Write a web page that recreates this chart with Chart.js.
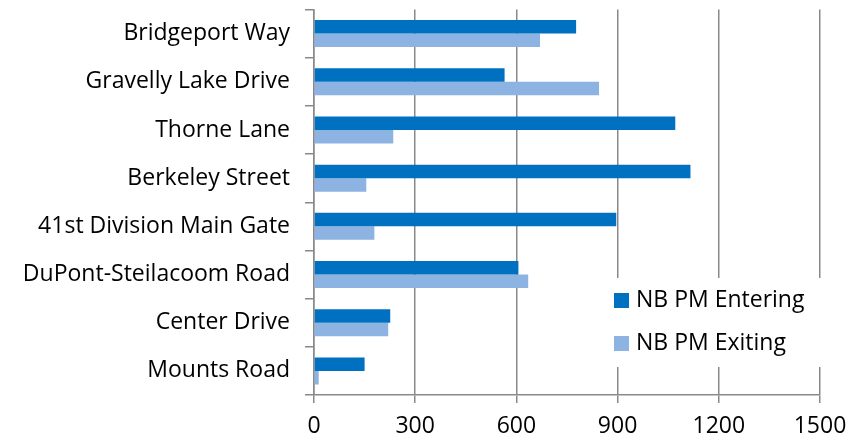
<!DOCTYPE html>
<html>
<head>
<meta charset="utf-8">
<script src="https://cdn.jsdelivr.net/npm/chart.js@4.4.0/dist/chart.umd.min.js"></script>
<style>
    html, body { margin: 0; padding: 0; background: #ffffff; }
    #wrap { width: 867px; height: 440px; }
</style>
</head>
<body>
<div id="wrap"><canvas id="rampChart"></canvas></div>
<script>
const roads = ['Bridgeport Way', 'Gravelly Lake Drive', 'Thorne Lane', 'Berkeley Street',
    '41st Division Main Gate', 'DuPont-Steilacoom Road', 'Center Drive', 'Mounts Road'];
const entering = [777, 565, 1071, 1116, 896, 606, 226, 150];
const exiting = [670, 845, 235, 155, 179, 635, 220, 14];
const xTicks = [0, 300, 600, 900, 1200, 1500];

// legend sits inside the plot, on a white box
const insideLegend = {
    id: 'insideLegend',
    afterDraw(chart) {
        const ctx = chart.ctx;
        ctx.save();
        ctx.fillStyle = '#ffffff';
        ctx.fillRect(606, 278, 230, 89);
        ctx.font = '23px "Open Sans"';
        ctx.textBaseline = 'middle';
        chart.data.datasets.forEach(function(ds, i) {
            const y = 293 + i * 43;
            ctx.fillStyle = ds.backgroundColor;
            ctx.fillRect(614, y, 15, 15);
            ctx.fillStyle = '#000000';
            ctx.fillText(ds.label, 636, y + 7);
        });
        ctx.restore();
    }
};

document.addEventListener('DOMContentLoaded', function() {
    const ctx = document.getElementById('rampChart').getContext('2d');
    new Chart(ctx, {
        type: 'bar',
        data: {
            labels: roads,
            datasets: [{
                label: 'NB PM Entering',
                data: entering,
                backgroundColor: '#0070C0'
            },
            {
                label: 'NB PM Exiting',
                data: exiting,
                backgroundColor: '#8DB3E2'
            }]
        },
        options: {
            indexAxis: 'y',
            responsive: true,
            maintainAspectRatio: false,
            animation: false,
            categoryPercentage: 0.56,
            barPercentage: 1,
            layout: {
                padding: { left: 0, right: 47, top: 9.5, bottom: 0 }
            },
            plugins: {
                legend: { display: false },
                tooltip: { enabled: false }
            },
            scales: {
                x: {
                    min: 0,
                    max: 1500,
                    afterBuildTicks: function(scale) {
                        scale.ticks = xTicks.map(v => ({ value: v }));
                    },
                    afterFit: function(scale) {
                        scale.height = 45;
                        scale.paddingLeft = 0;
                        scale.paddingRight = 0;
                    },
                    grid: {
                        color: '#898989',
                        lineWidth: 1.5,
                        tickLength: 8
                    },
                    border: { color: '#898989', width: 1.5 },
                    ticks: {
                        color: '#000000',
                        padding: 10,
                        maxRotation: 0,
                        callback: function(v) { return String(v); },
                        font: { family: 'Open Sans', size: 23 }
                    }
                },
                y: {
                    afterFit: function(scale) {
                        scale.width = 314;
                        scale.paddingTop = 0;
                        scale.paddingBottom = 0;
                    },
                    grid: {
                        offset: true,
                        drawOnChartArea: false,
                        color: '#898989',
                        lineWidth: 1.5,
                        tickLength: 9
                    },
                    border: { color: '#898989', width: 1.5 },
                    ticks: {
                        color: '#000000',
                        padding: 15,
                        font: { family: 'Open Sans', size: 23 }
                    }
                }
            }
        },
        plugins: [insideLegend]
    });
});
</script>
</body>
</html>
